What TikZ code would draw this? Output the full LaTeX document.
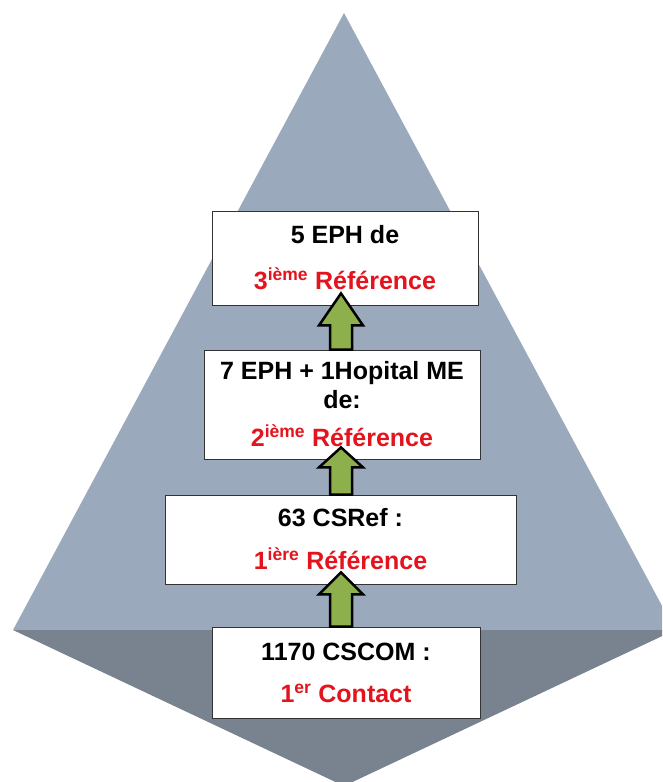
\documentclass[tikz,border=0pt]{standalone}
\usepackage{fontspec}
\setmainfont{Liberation Sans}
\usepackage{xcolor}
\usetikzlibrary{positioning, arrows.meta, calc}
\definecolor{pyrtop}{HTML}{9AA9BC}
\definecolor{pyrbottom}{HTML}{78838F}
\definecolor{arrowgreen}{HTML}{8DB04C}
\definecolor{refred}{HTML}{E3141E}

\tikzset{
  levelbox/.style={draw=black!80, fill=white, line width=0.8pt, align=center,
                   inner sep=0pt, font=\bfseries\fontsize{25}{29}\selectfont},
  levelarrow/.style={draw=black, line width=2.5pt, fill=arrowgreen, line join=miter},
}
\newcommand{\refline}[2]{{\color{refred}#1\textsuperscript{#2} Référence}}
% block arrow from the top of #1 up into the bottom of #2, head length #3
\newcommand{\levelup}[3]{%
  \draw[levelarrow]
    ($(#1.north -| axis)+(-11,0)$) -- ($(#2.south -| axis)+(-11,#3-12)$)
    -- ($(#2.south -| axis)+(-22,#3-12)$) -- ($(#2.south -| axis)+(0,-12)$)
    -- ($(#2.south -| axis)+(22,#3-12)$) -- ($(#2.south -| axis)+(11,#3-12)$)
    -- ($(#1.north -| axis)+(11,0)$) -- cycle;}

\begin{document}
\begin{tikzpicture}[x=1pt, y=-1pt]
  \useasboundingbox (0,0) rectangle (662,782);
  \begin{scope}
    \clip (0,0) rectangle (662,782);
    % pyramid
    \fill[pyrtop] (344,13) -- (13,630) -- (675,630) -- cycle;
    \fill[pyrbottom] (13,630) -- (675,630) -- (344,786) -- cycle;
  \end{scope}

  \coordinate (axis) at (341,0);

  % levels
  \node[levelbox, minimum width=266, minimum height=94] (eph3) at (345,258)
    {5 EPH de\\[17pt]\refline{3}{ième}};
  \node[levelbox, minimum width=276, minimum height=109] (eph2) at (342,404.5)
    {7 EPH + 1Hopital ME\\de:\\[9pt]\refline{2}{ième}};
  \node[levelbox, minimum width=351, minimum height=89] (csref) at (340.5,539.5)
    {63 CSRef :\\[14pt]\refline{1}{ière}};
  \node[levelbox, minimum width=268, minimum height=91] (cscom) at (346,672.5)
    {1170 CSCOM :\\[13pt]{\color{refred}1\textsuperscript{er} Contact}};

  % arrows
  \levelup{eph2}{eph3}{32}
  \levelup{csref}{eph2}{20}
  \levelup{cscom}{csref}{22}
\end{tikzpicture}
\end{document}
